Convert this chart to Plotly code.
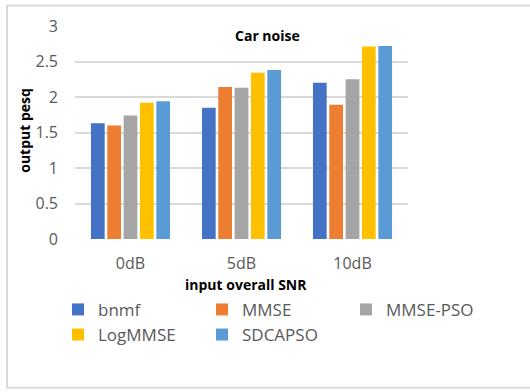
import plotly.graph_objects as go

# PESQ scores per input SNR level, car noise
snr_levels = ["0dB", "5dB", "10dB"]
bnmf = [1.63, 1.85, 2.20]
mmse = [1.60, 2.14, 1.89]
mmse_pso = [1.74, 2.13, 2.25]
logmmse = [1.92, 2.34, 2.71]
sdcapso = [1.94, 2.38, 2.72]

# name, values, colour, legend column
series = [
    ("bnmf", bnmf, "#4472C4", "legend"),
    ("MMSE", mmse, "#ED7D31", "legend2"),
    ("MMSE-PSO", mmse_pso, "#A5A5A5", "legend3"),
    ("LogMMSE", logmmse, "#FFC000", "legend"),
    ("SDCAPSO", sdcapso, "#5B9BD5", "legend2"),
]

W, H = 530, 392
ML, MR, MT, MB = 75, 122, 25.5, 153
pw, ph = W - ML - MR, H - MT - MB


def px_x(p):
    return (p - ML) / pw


def px_y(p):
    return (H - MB - p) / ph


fig = go.Figure()
for name, vals, color, leg in series:
    fig.add_trace(go.Bar(
        x=snr_levels, y=vals, name=name, legend=leg,
        marker=dict(color=color, line=dict(width=0)),
    ))

tick_font = dict(family="Open Sans", size=16, color="#595959")
legend_font = dict(family="Open Sans", size=17, color="#595959")
title_font = dict(family="Open Sans", size=14, color="black")


def legend_at(px_left):
    return dict(
        orientation="v", x=px_x(px_left), y=px_y(292), xanchor="left", yanchor="top",
        font=legend_font, traceorder="normal", bgcolor="rgba(0,0,0,0)",
    )


fig.update_layout(
    width=W, height=H,
    margin=dict(l=ML, r=MR, t=MT, b=MB),
    paper_bgcolor="white", plot_bgcolor="white",
    barmode="group", bargap=0.264, bargroupgap=0.16,
    showlegend=True,
    legend=legend_at(58),
    legend2=legend_at(202),
    legend3=legend_at(346),
    xaxis=dict(
        showgrid=False, zeroline=False, showline=False,
        tickfont=tick_font, ticklabelstandoff=13,
    ),
    yaxis=dict(
        range=[0, 3], dtick=0.5, showgrid=True, gridcolor="#D9D9D9", gridwidth=1.5,
        zeroline=False, showline=False, tickfont=tick_font, ticklabelstandoff=16,
    ),
    shapes=[dict(
        type="rect", xref="paper", yref="paper",
        x0=px_x(7), x1=px_x(540), y0=px_y(388), y1=px_y(5),
        line=dict(color="#D9D9D9", width=2), fillcolor="rgba(0,0,0,0)", layer="below",
    )],
    annotations=[
        dict(text="<b>Car noise</b>", xref="paper", yref="paper",
             x=px_x(267), y=px_y(35), xanchor="center", yanchor="middle",
             showarrow=False, font=title_font),
        dict(text="<b>output pesq</b>", xref="paper", yref="paper",
             x=px_x(25), y=px_y(130.5), xanchor="center", yanchor="middle",
             showarrow=False, textangle=-90, font=title_font),
        dict(text="<b>input overall SNR</b>", xref="paper", yref="paper",
             x=px_x(246), y=px_y(285), xanchor="center", yanchor="middle",
             showarrow=False, font=title_font),
    ],
)

fig.write_html("out.html")
